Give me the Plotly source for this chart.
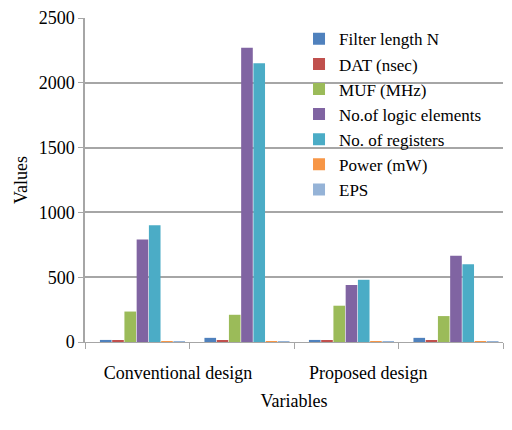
import plotly.graph_objects as go

# group positions (4 bar groups) and tick labels
groups = [0, 1, 2, 3]
group_boundaries = [-0.55, 0.45, 1.45, 2.45, 3.45]
tick_positions = [0.34, 2.16]
tick_labels = ["Conventional design", "Proposed design"]
y_ticks = [0, 500, 1000, 1500, 2000, 2500]

series_names = ["Filter length N", "DAT (nsec)", "MUF (MHz)", "No.of logic elements",
                "No. of registers", "Power (mW)", "EPS"]
filter_length = [16, 32, 16, 32]
dat = [9, 10, 8, 9]
muf = [235, 210, 280, 200]
logic_elements = [790, 2270, 440, 665]
registers = [900, 2150, 480, 600]
power = [4, 5, 4, 5]
eps = [3, 3, 3, 3]

series_values = [filter_length, dat, muf, logic_elements, registers, power, eps]
colors = ["#4F81BD", "#C0504D", "#9BBB59", "#8064A2", "#4BACC6", "#F79646", "#95B3D7"]

font_family = "Liberation Serif"

fig = go.Figure()
for name, vals, col in zip(series_names, series_values, colors):
    fig.add_trace(go.Bar(x=groups, y=vals, name=name, marker=dict(color=col, line=dict(width=0))))

fig.update_layout(
    width=512, height=430,
    margin=dict(l=77, r=17, t=10, b=96, autoexpand=False),
    paper_bgcolor="white", plot_bgcolor="white",
    barmode="group", bargap=0.18, bargroupgap=0.05,
    font=dict(family=font_family, size=18, color="black"),
    showlegend=True,
    legend=dict(x=0.512, y=0.99, xanchor="left", yanchor="top",
                bgcolor="rgba(0,0,0,0)", font=dict(size=17, family=font_family),
                tracegroupgap=0, itemsizing="constant"),
)
fig.update_xaxes(
    range=[group_boundaries[0], group_boundaries[-1]], tickmode="array",
    tickvals=tick_positions, ticktext=tick_labels,
    ticks="", showgrid=False, showline=True, linecolor="#A6A6A6", linewidth=1,
    zeroline=False, tickfont=dict(size=18, family=font_family), automargin=False,
    ticklabelstandoff=14,
    minor=dict(tickmode="array", tickvals=group_boundaries, ticks="outside",
               ticklen=6, tickcolor="#A6A6A6", showgrid=False),
    title=dict(text="Variables", font=dict(size=18, family=font_family), standoff=12),
)
fig.update_yaxes(
    range=[0, 2500], tickvals=y_ticks, ticklabeloverflow="allow",
    ticks="outside", ticklen=5, tickcolor="#A6A6A6",
    showgrid=True, gridcolor="#A6A6A6", gridwidth=1.5,
    showline=True, linecolor="#A6A6A6", linewidth=1.5, zeroline=False,
    tickfont=dict(size=18, family=font_family), automargin=False,
    title=dict(text="Values", font=dict(size=18, family=font_family), standoff=6),
)

fig.write_html("out.html")
